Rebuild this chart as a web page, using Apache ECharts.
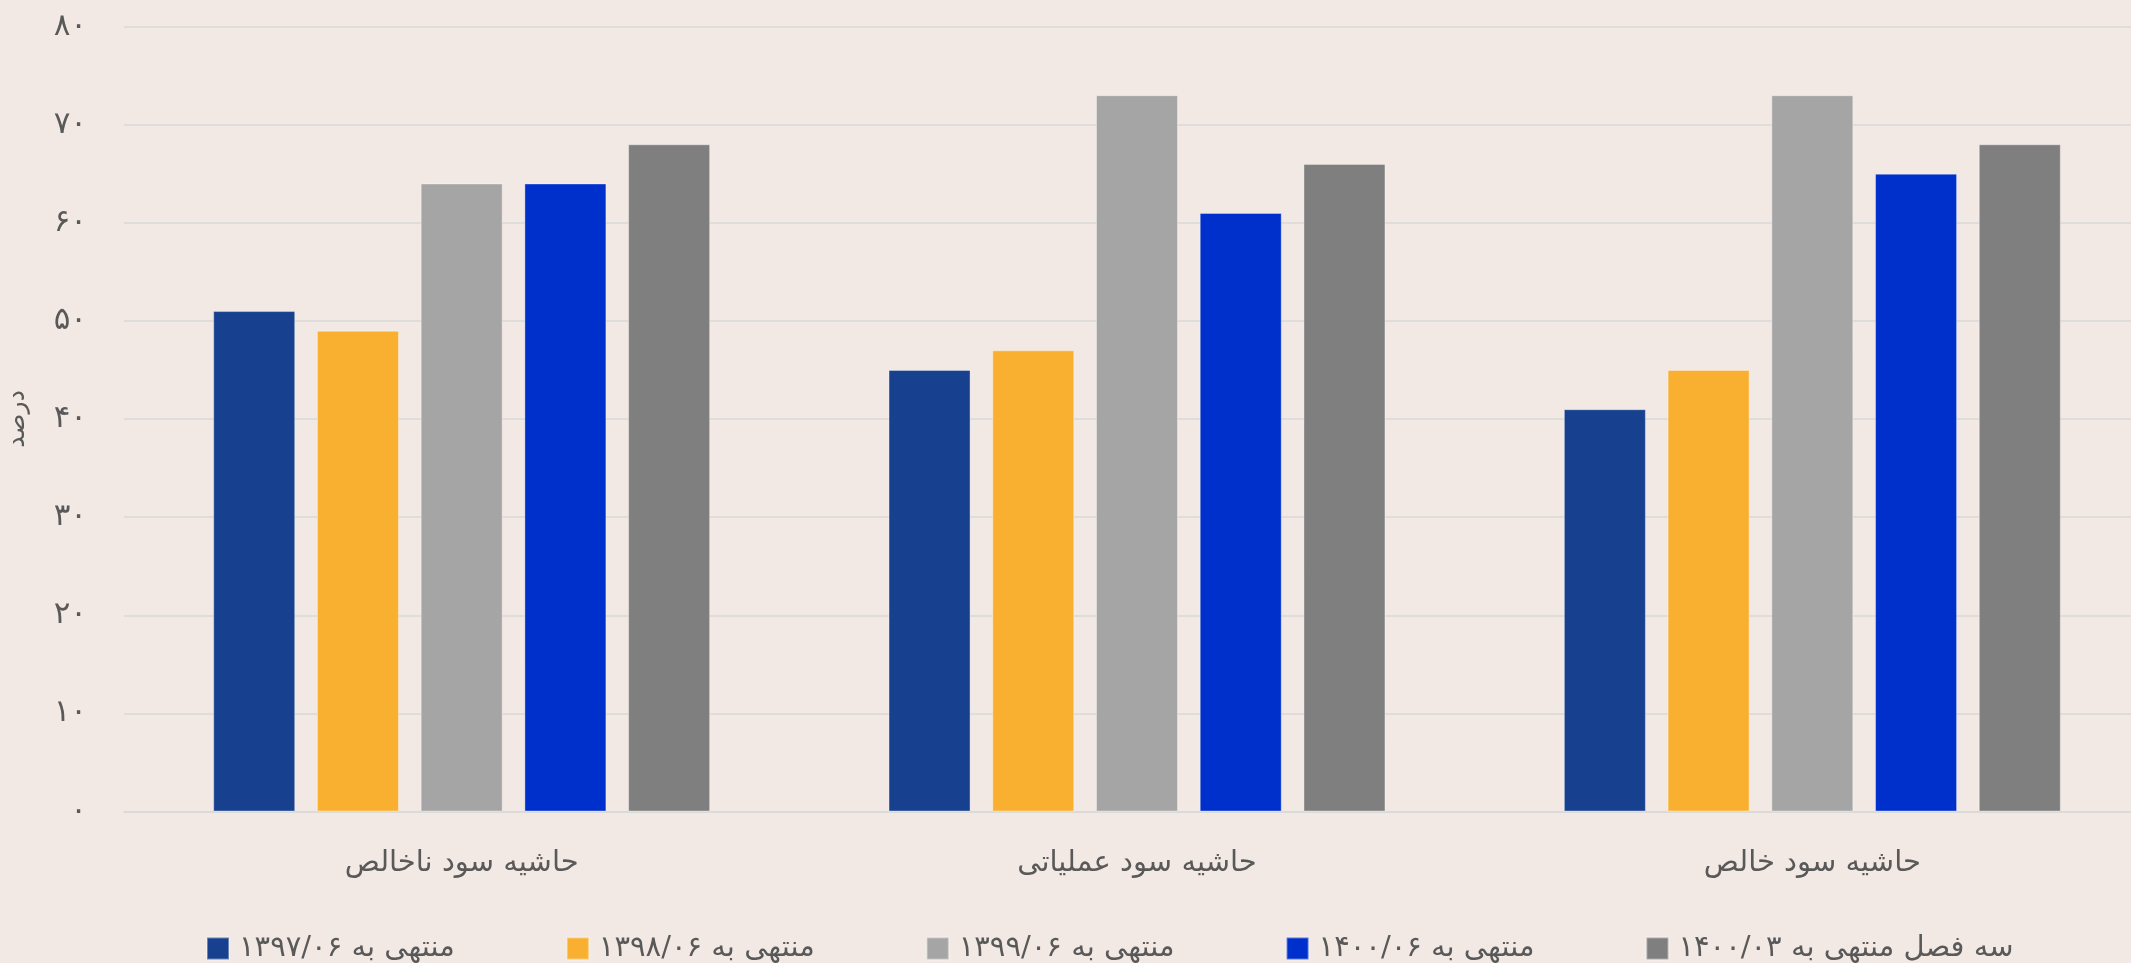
<!DOCTYPE html>
<html>
<head>
<meta charset="utf-8">
<script src="https://cdn.jsdelivr.net/npm/echarts@6/dist/echarts.min.js"></script>
<style>
html,body{margin:0;padding:0;background:#F2E9E4;}
#chart{width:2131px;height:963px;}
</style>
</head>
<body>
<div id="chart"></div>
<script>
const categories = ['حاشیه سود ناخالص', 'حاشیه سود عملیاتی', 'حاشیه سود خالص'];
const seriesNames = ['منتهی به ۱۳۹۷/۰۶', 'منتهی به ۱۳۹۸/۰۶', 'منتهی به ۱۳۹۹/۰۶', 'منتهی به ۱۴۰۰/۰۶', 'سه فصل منتهی به ۱۴۰۰/۰۳'];
const s1397 = [51, 45, 41];
const s1398 = [49, 47, 45];
const s1399 = [64, 73, 73];
const s1400 = [64, 61, 65];
const s1400q3 = [68, 66, 68];
const seriesValues = [s1397, s1398, s1399, s1400, s1400q3];
const colors = ['#17418F', '#F9B031', '#A5A5A5', '#0030CC', '#7F7F7F'];
const yAxisName = 'درصد';

const faDigits = '۰۱۲۳۴۵۶۷۸۹';
function toFa(v){ return String(v).replace(/[0-9]/g, d => faDigits[+d]); }

const FONT = "'DejaVu Sans', sans-serif";
const TXT = '#595959';

const chart = echarts.init(document.getElementById('chart'));
chart.setOption({
  backgroundColor: '#F2E9E4',
  animation: false,
  textStyle: { fontFamily: FONT, color: TXT },
  grid: { left: 124, width: 2026, top: 26.5, height: 785, containLabel: false, outerBoundsMode: 'none' },
  legend: {
    left: 206, top: 934, padding: 0,
    itemWidth: 22, itemHeight: 22, itemGap: 111,
    icon: 'rect',
    textStyle: { fontFamily: FONT, fontSize: 29, color: TXT, padding: [0, 0, 0, 5] },
    data: seriesNames
  },
  xAxis: {
    type: 'category',
    data: categories,
    axisLine: { show: true, lineStyle: { color: '#D9D9D9', width: 1.5 } },
    axisTick: { show: false },
    axisLabel: { fontFamily: FONT, fontSize: 29, color: TXT, margin: 37 }
  },
  yAxis: {
    type: 'value',
    min: 0, max: 80, interval: 10,
    name: yAxisName,
    nameLocation: 'middle',
    nameGap: 94,
    nameRotate: 90,
    nameTextStyle: { fontFamily: FONT, fontSize: 25, color: TXT },
    axisLine: { show: false },
    axisTick: { show: false },
    axisLabel: { fontFamily: FONT, fontSize: 31, color: TXT, margin: 37, formatter: v => toFa(v) },
    splitLine: { lineStyle: { color: '#D9D9D9', width: 1.5 } }
  },
  series: seriesNames.map((name, i) => ({
    name: name,
    type: 'bar',
    data: seriesValues[i],
    barWidth: 82,
    barGap: '26.5%',
    itemStyle: { color: colors[i], borderColor: 'rgba(255,255,255,0.35)', borderWidth: 1 }
  }))
});
</script>
</body>
</html>
